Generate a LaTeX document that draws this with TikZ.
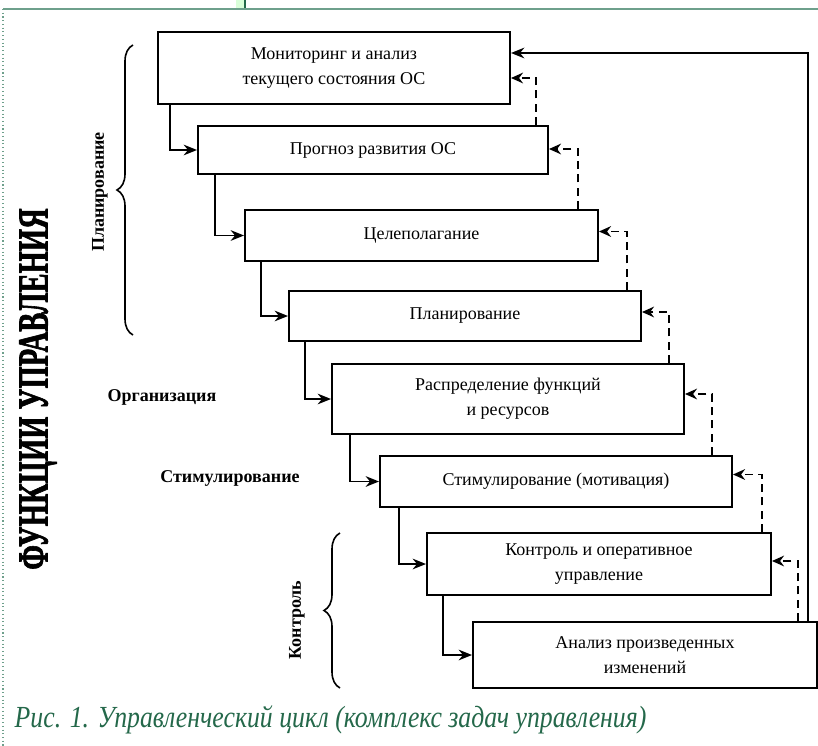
\documentclass[tikz,border=0pt]{standalone}
\usepackage{fontspec}
\setmainfont{Liberation Serif}
\newfontfamily\headfont[FakeBold=2]{Liberation Serif Bold}
\usepackage{graphicx}
\usepackage{xcolor}
\usetikzlibrary{arrows.meta}
\usetikzlibrary{calc}
\usetikzlibrary{decorations.pathreplacing}
\definecolor{capgreen}{RGB}{36,104,74}
\definecolor{framegreen}{RGB}{110,160,140}
\tikzset{
	task/.style={draw, line width=1.5pt, align=center, inner sep=0pt,
		font=\fontsize{13.5}{19}\selectfont},
	fwd/.style={-{Stealth[length=10pt,width=8pt]}, line width=1.4pt},
	back/.style={-{Stealth[length=9pt,width=8pt]}, line width=1.3pt,
		dash pattern=on 6pt off 4pt},
	grp/.style={font=\bfseries\fontsize{13.5}{15}\selectfont},
	brc/.style={decorate, decoration={brace, amplitude=12pt}, line width=1.2pt}
}

\begin{document}
\begin{tikzpicture}[x=0.75pt, y=-0.75pt]
		\useasboundingbox (0,0) rectangle (818,746);
		% page frame
		\fill[green!15] (236,0) rectangle (245,8);
		\draw[capgreen, line width=1pt] (245,0) -- (245,8);
		\draw[framegreen, line width=1.5pt] (3,9) -- (818,9);
		\draw[framegreen, dotted, line width=0.8pt] (3,9) -- (3,746);
		% steps
		\node[task, minimum width=264pt, minimum height=54pt] (b1) at (334,68)
		{Мониторинг и анализ\\текущего состояния ОС};
		\node[task, minimum width=262.5pt, minimum height=36pt] (b2) at (373,150)
		{Прогноз развития ОС};
		\node[task, minimum width=264.75pt, minimum height=38.25pt] (b3) at (421.5,235.5)
		{Целеполагание};
		\node[task, minimum width=264pt, minimum height=37.5pt] (b4) at (465,316)
		{Планирование};
		\node[task, minimum width=264pt, minimum height=52.5pt] (b5) at (508,399)
		{Распределение функций\\и ресурсов};
		\node[task, minimum width=264pt, minimum height=38.25pt] (b6) at (556,481.5)
		{Стимулирование (мотивация)};
		\node[task, minimum width=258pt, minimum height=46.5pt] (b7) at (599,564)
		{Контроль и оперативное\\управление};
		\node[task, minimum width=258pt, minimum height=49.5pt] (b8) at (645,655)
		{Анализ произведенных\\изменений};
		% forward links
		\draw[fwd] ($(b1.south west)+(13,0)$) |- (b2.west);
		\draw[fwd] ($(b2.south west)+(18,0)$) |- (b3.west);
		\draw[fwd] ($(b3.south west)+(17,0)$) |- (b4.west);
		\draw[fwd] ($(b4.south west)+(17,0)$) |- (b5.west);
		\draw[fwd] ($(b5.south west)+(19,0)$) |- (b6.west);
		\draw[fwd] ($(b6.south west)+(20,0)$) |- (b7.west);
		\draw[fwd] ($(b7.south west)+(17,0)$) |- (b8.west);
		% feedback links
		\coordinate (d1) at ($(b1.east)+(25,10)$);
		\coordinate (d2) at ($(b2.east)+(29,-1)$);
		\coordinate (d3) at ($(b3.east)+(28,-4)$);
		\coordinate (d4) at ($(b4.east)+(27,-4)$);
		\coordinate (d5) at ($(b5.east)+(27,-5)$);
		\coordinate (d6) at ($(b6.east)+(29,-7)$);
		\coordinate (d7) at ($(b7.east)+(26,-3)$);
		\draw[back] (d1 |- b2.north) -- (d1) -- (d1 -| b1.east);
		\draw[back] (d2 |- b3.north) -- (d2) -- (d2 -| b2.east);
		\draw[back] (d3 |- b4.north) -- (d3) -- (d3 -| b3.east);
		\draw[back] (d4 |- b5.north) -- (d4) -- (d4 -| b4.east);
		\draw[back] (d5 |- b6.north) -- (d5) -- (d5 -| b5.east);
		\draw[back] (d6 |- b7.north) -- (d6) -- (d6 -| b6.east);
		\draw[back] (d7 |- b8.north) -- (d7) -- (d7 -| b7.east);
		\coordinate (ret) at (808,53);
		\draw[fwd] (ret |- b8.north) -- (ret) -- (ret -| b1.east);
		% groups
		\draw[brc] (133,335) -- (133,45);
		\draw[brc] (340,688) -- (340,533);
		\node[grp, rotate=90] (plan) at (100,192) {Планирование};
		\node[grp] (org) at (162,397) {Организация};
		\node[grp] (stim) at (230,478) {Стимулирование};
		\node[grp, rotate=90] (ctrl) at (297,620) {Контроль};
		\node[rotate=90, font=\headfont\fontsize{32}{32}\selectfont] (title) at (38,389)
		{\scalebox{0.67}[1]{ФУНКЦИИ УПРАВЛЕНИЯ}};
		\node[anchor=west, text=capgreen, font=\itshape\fontsize{23}{24}\selectfont] (cap) at (10,720)
		{\scalebox{0.84}[1]{Рис. 1. Управленческий цикл (комплекс задач управления)}};
	\end{tikzpicture}
\end{document}
